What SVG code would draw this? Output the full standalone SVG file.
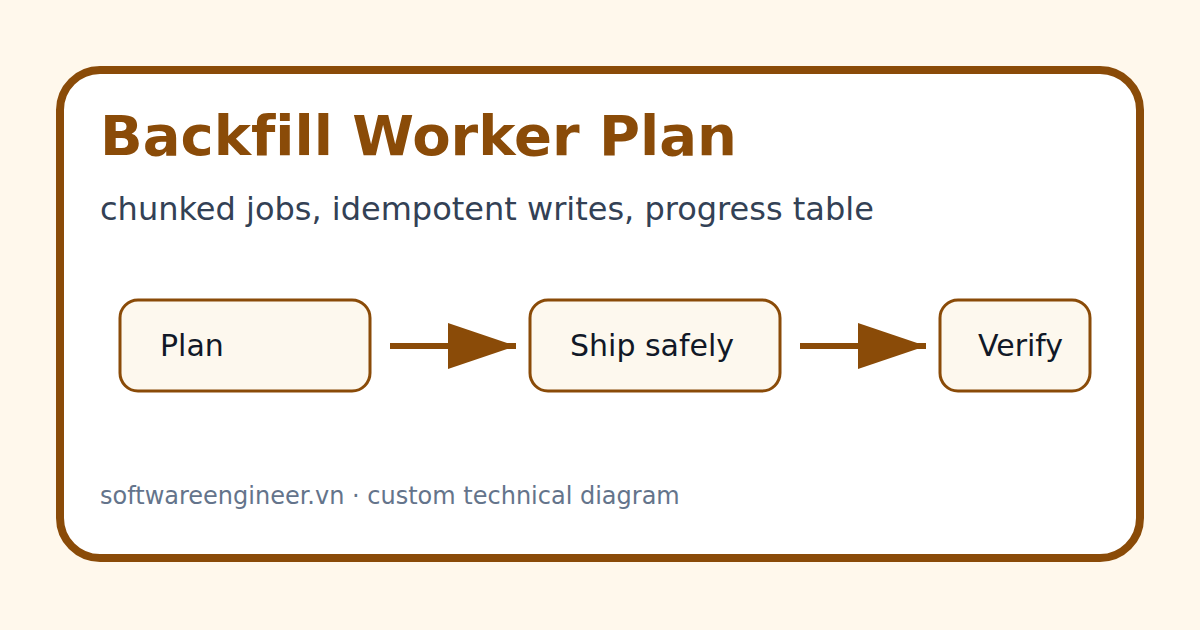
<svg xmlns="http://www.w3.org/2000/svg" width="1200" height="630" viewBox="0 0 1200 630">
<style>
.node rect{fill:#fdf8ee;stroke:#8a4b08;stroke-width:3}
.node text{font-family:"DejaVu Sans",sans-serif;font-size:30px;fill:#111827}
.conn line{stroke:#8a4b08;stroke-width:6}
</style>
<defs>
<marker id="ah" markerUnits="userSpaceOnUse" markerWidth="70" markerHeight="48" refX="68" refY="23" orient="auto">
<path d="M0,0 L68,23 L0,46 Z" fill="#8a4b08"/>
</marker>
</defs>
<rect width="1200" height="630" fill="#fff8ec"/>
<rect x="60" y="70" width="1080" height="488" rx="40" fill="#ffffff" stroke="#8a4b08" stroke-width="8"/>
<text x="100" y="155" font-family="DejaVu Sans, sans-serif" font-size="56" font-weight="bold" fill="#8a4b08" style="font-variant-ligatures:none">Backfill Worker Plan</text>
<text x="100" y="220" font-family="DejaVu Sans, sans-serif" font-size="32" fill="#334155">chunked jobs, idempotent writes, progress table</text>
<g class="conn">
<line x1="390" y1="346" x2="516" y2="346" marker-end="url(#ah)"/>
<line x1="800" y1="346" x2="926" y2="346" marker-end="url(#ah)"/>
</g>
<g id="plan" class="node"><rect x="120" y="300" width="250" height="91" rx="18"/><text x="160" y="356">Plan</text></g>
<g id="ship" class="node"><rect x="530" y="300" width="250" height="91" rx="18"/><text x="570" y="356">Ship safely</text></g>
<g id="verify" class="node"><rect x="940" y="300" width="150" height="91" rx="18"/><text x="978" y="356">Verify</text></g>
<text x="100" y="504" font-family="DejaVu Sans, sans-serif" font-size="24" fill="#64748b">softwareengineer.vn · custom technical diagram</text>
</svg>
